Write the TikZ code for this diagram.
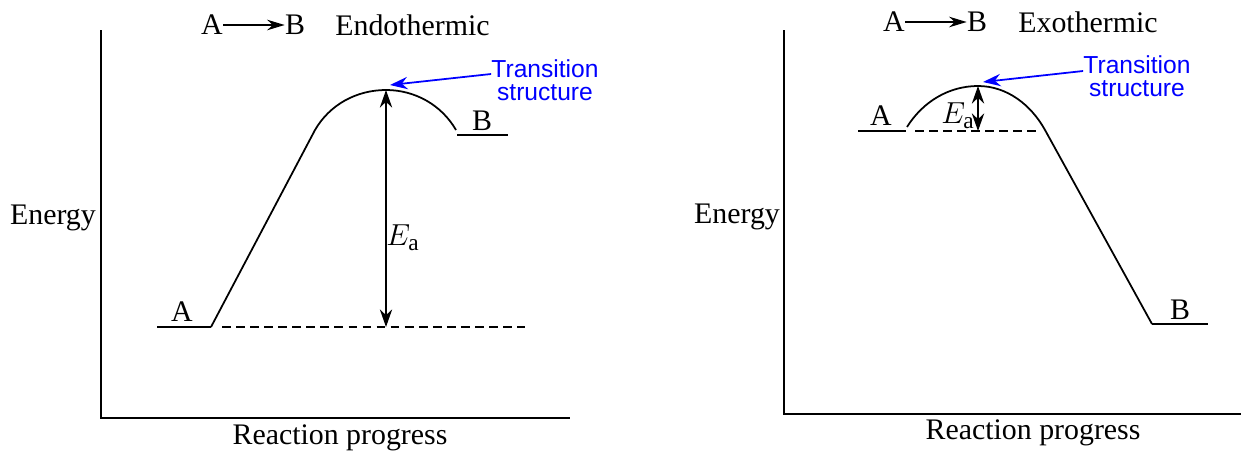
\documentclass[tikz,border=0pt]{standalone}
\usepackage{fontspec}
\setmainfont{Liberation Serif}
\newfontfamily\labsans{Liberation Sans}
\usetikzlibrary{arrows.meta}
\tikzset{
  ln/.style={line width=1pt},
  lbl/.style={font=\fontsize{17}{19}\selectfont, inner sep=0pt},
  ealbl/.style={font=\fontsize{19}{21}\selectfont, inner sep=0pt},
  ts/.style={font=\labsans\fontsize{14}{16}\selectfont, text=blue, align=center, inner sep=0pt},
  tsarrow/.style={draw=blue, line width=1pt, -{Stealth[length=10pt,width=7pt]}},
  dbl/.style={line width=1.1pt, {Stealth[length=10pt,width=7pt]}-{Stealth[length=10pt,width=7pt]}},
  hdr/.style={line width=1pt, -{Stealth[length=10pt,width=6pt]}},
  dsh/.style={line width=0.8pt, dash pattern=on 5pt off 3pt}
}
\begin{document}
\begin{tikzpicture}[x=0.02cm,y=-0.02cm]
\useasboundingbox (0,0) rectangle (1243,453);
% ---------- left panel ----------
\coordinate (LO) at (101,418);
\coordinate (LT) at (101,30);
\coordinate (LR) at (570,418);
\draw[ln] (LT) -- (LO) -- (LR);
\node[lbl] (lE) at (53,218) {Energy};
\node[lbl] (lRP) at (340,438) {Reaction progress};
\node[lbl] (lhA) at (212,25) {A};
\node[lbl] (lhB) at (295,25) {B};
\draw[hdr] (lhA.east) -- (lhB.west);
\node[lbl,anchor=west] (lhT) at (335,25) {Endothermic};
\coordinate (lA1) at (157,327);
\coordinate (lA2) at (211,327);
\draw[ln] (lA1) -- (lA2);
\node[lbl] (lAl) at (182,312) {A};
\coordinate (lK) at (315,130);
\coordinate (lTop) at (386,90);
\coordinate (lEnd) at (456,130);
\draw[ln] (lA2) -- (lK) to[out=60,in=180,looseness=0.92] (lTop) to[out=0,in=120,looseness=0.92] (lEnd);
\coordinate (lB1) at (457,135);
\coordinate (lB2) at (508,135);
\draw[ln] (lB1) -- (lB2);
\node[lbl] (lBl) at (482,121) {B};
\coordinate (lD1) at (222,327);
\coordinate (lD2) at (525,327);
\draw[dsh] (lD1) -- (lD2);
\coordinate (lEbot) at (386,327);
\draw[dbl] (lEbot) -- (lTop);
\node[ealbl] (lEa) at (403,238) {$E_{\mathrm{a}}$};
\node[ts] (lTS) at (545,80) {Transition\\[-3pt]structure};
\draw[tsarrow] (lTS.west |- 0,74) -- (390,85);
% ---------- right panel ----------
\coordinate (RO) at (784,414);
\coordinate (RT) at (784,30);
\coordinate (RR) at (1241,414);
\draw[ln] (RT) -- (RO) -- (RR);
\node[lbl] (rE) at (737,217) {Energy};
\node[lbl] (rRP) at (1033,433) {Reaction progress};
\node[lbl] (rhA) at (894,22) {A};
\node[lbl] (rhB) at (977,22) {B};
\draw[hdr] (rhA.east) -- (rhB.west);
\node[lbl,anchor=west] (rhT) at (1018,22) {Exothermic};
\coordinate (rA1) at (858,131);
\coordinate (rA2) at (906,131);
\draw[ln] (rA1) -- (rA2);
\node[lbl] (rAl) at (881,116) {A};
\coordinate (rS) at (907,127);
\coordinate (rTop) at (978,86);
\coordinate (rK) at (1045,130);
\coordinate (rEnd) at (1152,324);
\draw[ln] (rS) to[out=58,in=180,looseness=0.92] (rTop) to[out=0,in=119,looseness=0.92] (rK) -- (rEnd);
\coordinate (rB2) at (1208,324);
\draw[ln] (rEnd) -- (rB2);
\node[lbl] (rBl) at (1180,310) {B};
\coordinate (rD1) at (915,131);
\coordinate (rD2) at (1040,131);
\draw[dsh] (rD1) -- (rD2);
\coordinate (rEbot) at (978,131);
\draw[dbl] (rEbot) -- (rTop);
\node[ealbl] (rEa) at (958,116) {$E_{\mathrm{a}}$};
\node[ts] (rTS) at (1137,76) {Transition\\[-3pt]structure};
\draw[tsarrow] (rTS.west |- 0,71) -- (983,82);
\end{tikzpicture}
\end{document}
